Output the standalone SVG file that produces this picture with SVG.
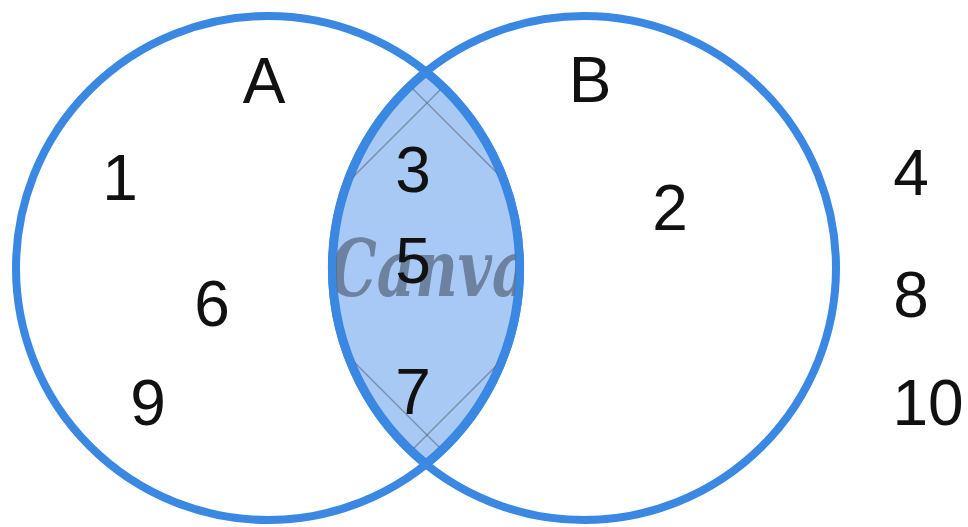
<svg xmlns="http://www.w3.org/2000/svg" width="968" height="527" viewBox="0 0 968 527">
  <defs>
    <style>
      .ring { fill: none; stroke: #3a88e2; stroke-width: 8; }
      .lens { fill: #a9c9f5; stroke: #3a88e2; stroke-width: 9; }
      .lbl { font-family: "Liberation Sans", Arial, sans-serif; font-size: 64px; fill: #111; text-anchor: middle; }
      .wm { stroke: #4a5a70; stroke-width: 1.3; opacity: 0.55; fill: none; }
    </style>
    <clipPath id="lensClip">
      <path d="M426,72 A252,252 0 0 0 426,464 A252,252 0 0 0 426,72 Z"/>
    </clipPath>
  </defs>
  <rect width="968" height="527" fill="#ffffff"/>
  <g id="intersection">
    <path class="lens" d="M426,72 A252,252 0 0 0 426,464 A252,252 0 0 0 426,72 Z"/>
    <g clip-path="url(#lensClip)">
      <line class="wm" x1="390" y1="66" x2="560" y2="236"/>
      <line class="wm" x1="464" y1="66" x2="300" y2="230"/>
      <line class="wm" x1="300" y1="308" x2="460" y2="468"/>
      <line class="wm" x1="392" y1="470" x2="560" y2="302"/>
      <text x="330" y="296" font-family="DejaVu Serif, serif" font-style="italic" font-weight="bold" font-size="78" fill="#5a6a80" opacity="0.75" textLength="200" lengthAdjust="spacingAndGlyphs">Canva</text>
    </g>
  </g>
  <g id="setA">
    <circle class="ring" cx="268" cy="268" r="252"/>
  </g>
  <g id="setB">
    <circle class="ring" cx="584" cy="268" r="252"/>
  </g>
  <g id="labels">
    <text class="lbl" x="264" y="103">A</text>
    <text class="lbl" x="590" y="102">B</text>
    <text class="lbl" x="120" y="200">1</text>
    <text class="lbl" x="212" y="326">6</text>
    <text class="lbl" x="148" y="425">9</text>
    <text class="lbl" x="413" y="192">3</text>
    <text class="lbl" x="413" y="283">5</text>
    <text class="lbl" x="413" y="414">7</text>
    <text class="lbl" x="670" y="230">2</text>
    <text class="lbl" x="911" y="195">4</text>
    <text class="lbl" x="911" y="317">8</text>
    <text class="lbl" x="928" y="425">10</text>
  </g>
  <g id="connectors"></g>
</svg>
